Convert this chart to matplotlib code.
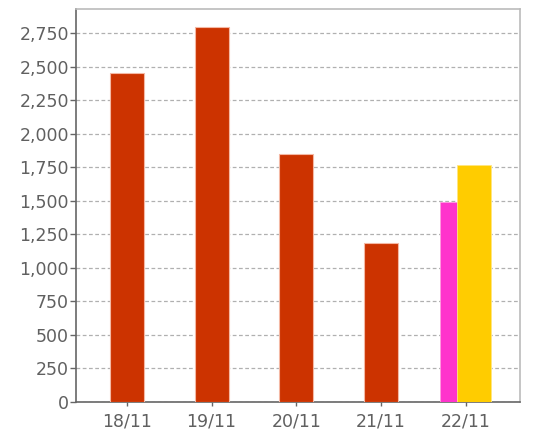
import numpy as np
import matplotlib
matplotlib.use('Agg')
import matplotlib.pyplot as plt

# 数据
days = ['18/11', '19/11', '20/11', '21/11', '22/11']
main_values = [2455, 2796, 1846, 1182]
pink_value = 1492
yellow_value = 1766
y_ticks = [0, 250, 500, 750, 1000, 1250, 1500, 1750, 2000, 2250, 2500, 2750]

fig = plt.figure(figsize=(5.36, 4.46), dpi=100)
ax = fig.add_axes([76 / 536, 1 - 401.7 / 446, (520 - 76) / 536, (401.7 - 9) / 446])

x = np.arange(len(days))
# 前四天的红色柱子
ax.bar(x[:4], main_values, width=0.4, color='#cc3300',
       edgecolor='#f4b8a4', linewidth=0.8, zorder=3)
# 最后一天：粉色在后，黄色在前
ax.bar(x[4] - 0.1, pink_value, width=0.4, color='#ff33cc',
       edgecolor='#ff99e0', linewidth=0.6, zorder=3)
ax.bar(x[4] + 0.1, yellow_value, width=0.4, color='#ffcc00',
       edgecolor='#ffe680', linewidth=0.6, zorder=4)

ax.set_xlim(-0.6, 4.64)
ax.set_ylim(0, 2930)
ax.set_xticks(x)
ax.set_xticklabels(days)
ax.set_yticks(y_ticks)
ax.set_yticklabels([f'{v:,}' for v in y_ticks])

ax.grid(axis='y', linestyle=(0, (3, 2)), color='#b0b0b0', linewidth=0.9, zorder=0)
ax.tick_params(axis='y', length=4, width=1, color='#666666', labelsize=12.5,
               labelcolor='#606060', pad=1)
ax.tick_params(axis='x', length=3, width=1, color='#666666', labelsize=12.5,
               labelcolor='#606060', pad=5)

for side in ['left', 'bottom']:
    ax.spines[side].set_color('#666666')
    ax.spines[side].set_linewidth(1.2)
for side in ['top', 'right']:
    ax.spines[side].set_color('#bbbbbb')
    ax.spines[side].set_linewidth(1.2)

fig.savefig('out.png', dpi=100)
